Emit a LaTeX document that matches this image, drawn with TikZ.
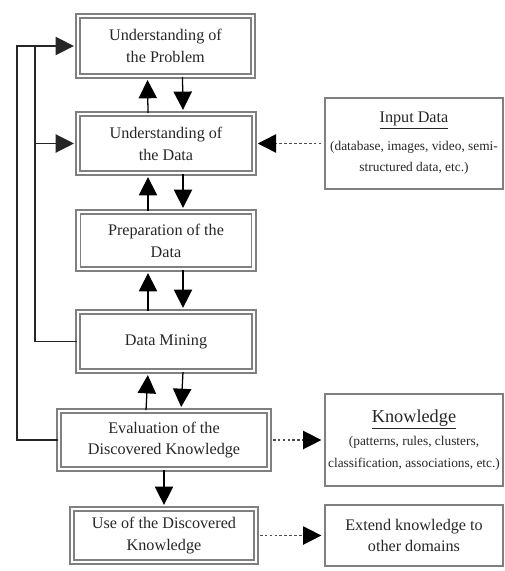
\documentclass[tikz,border=0pt]{standalone}
\usepackage{fontspec}
\setmainfont{Liberation Serif}
\usetikzlibrary{arrows.meta,calc}

\begin{document}
\begin{tikzpicture}[x=0.025cm,y=-0.025cm,
  stage/.style={draw=black!50, line width=1.3pt, double=white, double distance=1.8pt, inner sep=1pt, align=center, text=black!85, font=\fontsize{11.5}{15.5}\selectfont},
  info/.style={draw=black!50, line width=1.1pt, inner sep=1pt, align=center, text=black!85, font=\fontsize{11.5}{15.5}\selectfont},
  flow/.style={-{Triangle[length=13pt,width=13pt]}, line width=0.9pt, shorten >=2.2pt},
  feed/.style={line width=1.3pt, black!85},
  link/.style={-{Triangle[length=13pt,width=13pt,color=black]}, line width=1pt, black!70, dash pattern=on 2pt off 1.5pt, shorten >=2pt, shorten <=2pt}]
\useasboundingbox (0,0) rectangle (505,571);
% process stages
\node[stage, minimum width=4.38cm, minimum height=1.5cm] (b1) at (165.5,46) {Understanding of\\the Problem};
\node[stage, minimum width=4.4cm, minimum height=1.48cm] (b2) at (166,143.5) {Understanding of\\the Data};
\node[stage, minimum width=4.38cm, minimum height=1.43cm] (b3) at (166,240.5) {Preparation of the\\Data};
\node[stage, minimum width=4.4cm, minimum height=1.48cm] (b4) at (166,341.5) {Data Mining};
\node[stage, minimum width=5.25cm, minimum height=1.45cm] (b5) at (164,440) {Evaluation of the\\Discovered Knowledge};
\node[stage, minimum width=4.6cm, minimum height=1.33cm] (b6) at (164,535.5) {Use of the Discovered\\Knowledge};
% side boxes
\node[info, minimum width=4.45cm, minimum height=2.275cm] (input) at (414,143.5) {\underline{Input Data}\\[4pt]\fontsize{9.5}{10.5}\selectfont (database, images, video, semi-\\\fontsize{9.5}{10.5}\selectfont structured data, etc.)};
\node[info, minimum width=4.45cm, minimum height=2.3cm] (know) at (414,440) {\fontsize{13}{15}\selectfont\underline{Knowledge}\\[1pt]\fontsize{9.5}{11}\selectfont (patterns, rules, clusters,\\\fontsize{9.5}{11}\selectfont classification, associations, etc.)};
\node[info, minimum width=4.45cm, minimum height=1.525cm] (extend) at (414,535.5) {Extend knowledge to\\other domains};
% arrows between stages
\foreach \a/\b in {b1/b2,b2/b3,b3/b4,b4/b5}{
  \draw[flow] ([xshift=-0.45cm]\b.north) -- ([xshift=-0.45cm]\a.south);
  \draw[flow] ([xshift=0.425cm]\a.south) -- ([xshift=0.425cm]\b.north);
}
\draw[flow] (b5) -- (b6);
% feedback loops
\coordinate (fo) at (17,46);
\coordinate (fi) at (35,46);
\draw[feed] (b5.west) -| (fo) -- (fi) (b4.west) -| (fi);
\draw[feed, flow] (fi) -- (b1.west);
\draw[feed, flow] (fi |- b2.west) -- (b2.west);
% dotted links
\draw[link] (input.west) -- (b2.east);
\draw[link] (b5.east) -- (know.west);
\draw[link] (b6.east) -- (extend.west);
\end{tikzpicture}
\end{document}
